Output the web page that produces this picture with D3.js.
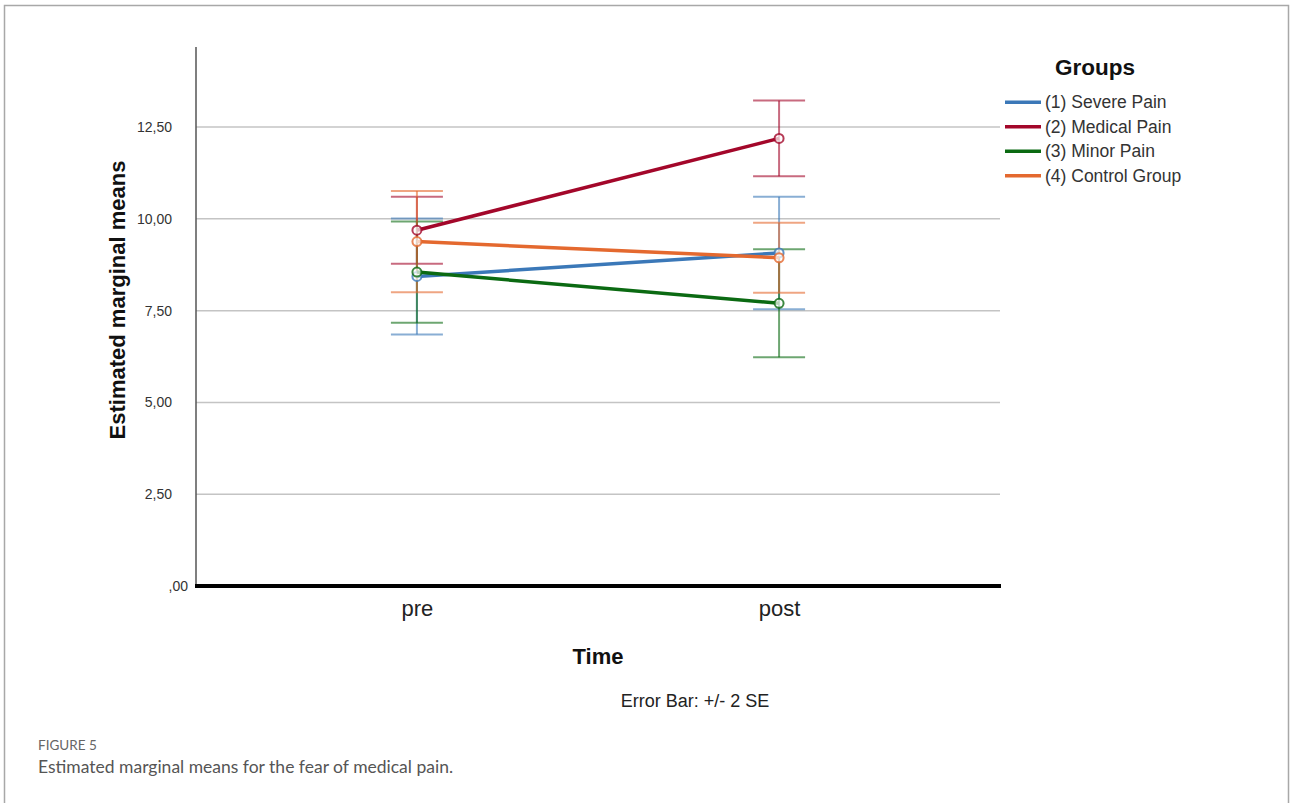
<!DOCTYPE html>
<html>
<head>
<meta charset="utf-8">
<script src="https://cdn.jsdelivr.net/npm/d3@7"></script>
<style>
  body { margin: 0; background: #fff; }
  svg { font-family: "Liberation Sans", Arial, sans-serif; }
</style>
</head>
<body>
<svg width="1290" height="803"></svg>
<script>
const svg = d3.select("svg");

// data
const times = ["pre", "post"];
const groups = ["(1) Severe Pain", "(2) Medical Pain", "(3) Minor Pain", "(4) Control Group"];
const colors = ["#3b78b8", "#a3072a", "#0b6a12", "#e4692f"];
const means = [
  [8.43, 9.07],
  [9.69, 12.19],
  [8.55, 7.70],
  [9.38, 8.94]
];
const halfErr = [
  [1.58, 1.53],
  [0.91, 1.03],
  [1.38, 1.47],
  [1.38, 0.95]
];
const yTicks = [0, 2.5, 5, 7.5, 10, 12.5];

const plotLeft = 196, plotRight = 1000, plotTop = 47, plotBottom = 586;

const x = d3.scalePoint()
    .domain(times)
    .range([plotLeft, plotRight])
    .padding(0.61);

const y = d3.scaleLinear()
    .domain([0, 14.68])
    .range([plotBottom, plotTop]);

const fmt = v => {
  const s = d3.format(".2f")(v).replace(".", ",");
  return s.startsWith("0") ? s.slice(1) : s;
};

// frame
svg.append("path")
    .attr("d", "M4.5,803 V5.5 H1288.5 V803")
    .attr("fill", "none")
    .attr("stroke", "#a8a8a8")
    .attr("stroke-width", 1.5);

// gridlines
svg.append("g").selectAll("line").data(yTicks.filter(d => d > 0))
  .enter().append("line")
    .attr("x1", plotLeft).attr("x2", plotRight)
    .attr("y1", d => y(d)).attr("y2", d => y(d))
    .attr("stroke", "#c4c4c4")
    .attr("stroke-width", 1.5);

// y axis
const yAxis = svg.append("g")
    .attr("transform", `translate(${plotLeft},0)`)
    .call(d3.axisLeft(y).tickValues(yTicks).tickSize(0).tickPadding(24).tickFormat(fmt));
yAxis.select(".domain").remove();
yAxis.selectAll("text")
    .attr("dx", d => d === 0 ? 16 : 0)
    .attr("font-size", 14)
    .attr("fill", "#333")
    .style("font-family", "'Liberation Sans', Arial, sans-serif");

svg.append("line")
    .attr("x1", plotLeft).attr("x2", plotLeft)
    .attr("y1", plotTop).attr("y2", plotBottom)
    .attr("stroke", "#555")
    .attr("stroke-width", 1.5);

// x axis
const xAxis = svg.append("g")
    .attr("transform", `translate(0,${plotBottom})`)
    .call(d3.axisBottom(x).tickSize(0).tickPadding(14));
xAxis.select(".domain").remove();
xAxis.selectAll("text")
    .attr("font-size", 22)
    .attr("fill", "#222")
    .style("font-family", "'Liberation Sans', Arial, sans-serif");

svg.append("line")
    .attr("x1", plotLeft - 1).attr("x2", plotRight + 1)
    .attr("y1", plotBottom).attr("y2", plotBottom)
    .attr("stroke", "#000")
    .attr("stroke-width", 4);

// error bars
const capW = 26;
groups.forEach((g, i) => {
  const eg = svg.append("g")
      .attr("stroke", colors[i])
      .attr("stroke-opacity", 0.6)
      .attr("stroke-width", 2);
  times.forEach((t, j) => {
    const lo = means[i][j] - halfErr[i][j];
    const hi = means[i][j] + halfErr[i][j];
    eg.append("line")
        .attr("x1", x(t)).attr("x2", x(t))
        .attr("y1", y(lo)).attr("y2", y(hi));
    [lo, hi].forEach(v => {
      eg.append("line")
          .attr("x1", x(t) - capW).attr("x2", x(t) + capW)
          .attr("y1", y(v)).attr("y2", y(v));
    });
  });
});

// mean lines
const line = d3.line()
    .x((d, j) => x(times[j]))
    .y(d => y(d));

groups.forEach((g, i) => {
  svg.append("path")
      .datum(means[i])
      .attr("d", line)
      .attr("fill", "none")
      .attr("stroke", colors[i])
      .attr("stroke-width", 3.5);
  svg.append("g").selectAll("circle").data(means[i])
    .enter().append("circle")
      .attr("cx", (d, j) => x(times[j]))
      .attr("cy", d => y(d))
      .attr("r", 4.5)
      .attr("fill", "#fff")
      .attr("fill-opacity", 0.7)
      .attr("stroke", colors[i])
      .attr("stroke-opacity", 0.8)
      .attr("stroke-width", 2);
});

// axis titles
svg.append("text")
    .attr("transform", "translate(125,300) rotate(-90)")
    .attr("text-anchor", "middle")
    .attr("font-size", 22)
    .attr("font-weight", "bold")
    .attr("fill", "#111")
    .text("Estimated marginal means");

svg.append("text")
    .attr("x", 598).attr("y", 664)
    .attr("text-anchor", "middle")
    .attr("font-size", 22)
    .attr("font-weight", "bold")
    .attr("fill", "#111")
    .text("Time");

svg.append("text")
    .attr("x", 695).attr("y", 707)
    .attr("text-anchor", "middle")
    .attr("font-size", 18)
    .attr("fill", "#222")
    .text("Error Bar: +/- 2 SE");

// legend
const legend = svg.append("g");
legend.append("text")
    .attr("x", 1095).attr("y", 75)
    .attr("text-anchor", "middle")
    .attr("font-size", 22.5)
    .attr("font-weight", "bold")
    .attr("fill", "#111")
    .text("Groups");

const legendRow = d3.scaleBand()
    .domain(groups)
    .range([90, 188]);

const item = legend.selectAll("g.item").data(groups)
  .enter().append("g")
    .attr("class", "item")
    .attr("transform", d => `translate(0,${legendRow(d) + legendRow.bandwidth() / 2})`);
item.append("line")
    .attr("x1", 1005).attr("x2", 1041)
    .attr("stroke", (d, i) => colors[i])
    .attr("stroke-width", 3.5);
item.append("text")
    .attr("x", 1045).attr("dy", "0.35em")
    .attr("font-size", 17.5)
    .attr("fill", "#333")
    .text(d => d);

// caption
svg.append("text")
    .attr("x", 38).attr("y", 750)
    .style("font-family", "Lato, 'Open Sans', sans-serif")
    .attr("font-size", 13.5)
    .attr("fill", "#666")
    .text("FIGURE 5");

svg.append("text")
    .attr("x", 38).attr("y", 773)
    .style("font-family", "Lato, 'Open Sans', sans-serif")
    .attr("font-size", 17.5)
    .attr("fill", "#555")
    .text("Estimated marginal means for the fear of medical pain.");
</script>
</body>
</html>
